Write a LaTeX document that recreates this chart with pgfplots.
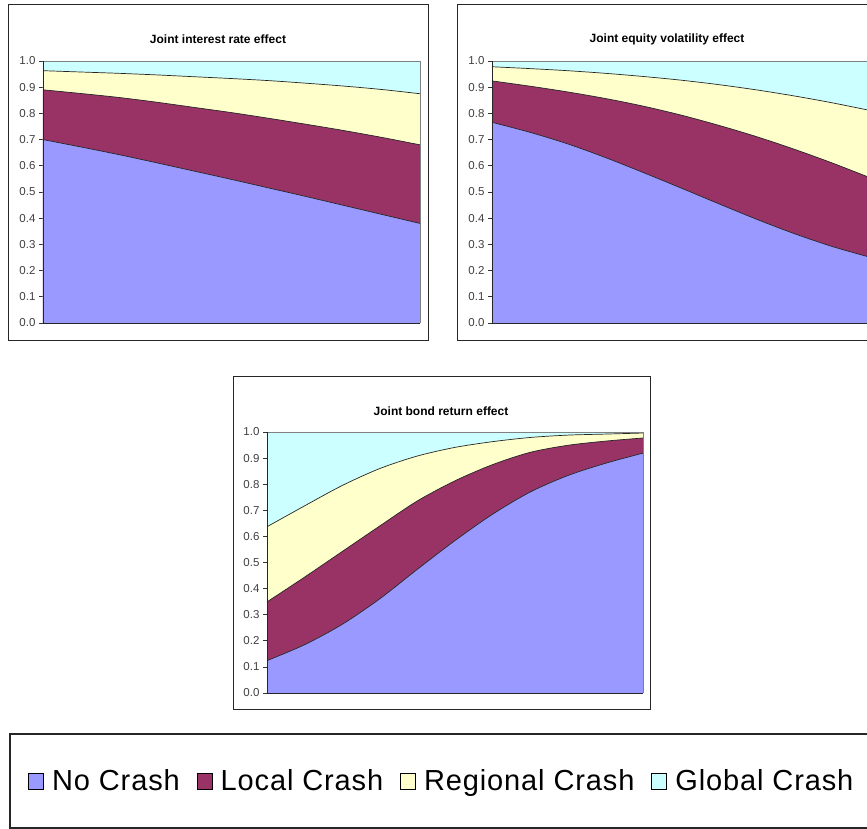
\documentclass[border=0pt]{standalone}
\usepackage{pgfplots}
\usepackage{pgfplotstable}
\pgfplotsset{compat=1.18}
\usepackage{fontspec}
\setmainfont{Liberation Sans}

\definecolor{nocrash}{HTML}{9999FF}
\definecolor{localc}{HTML}{993366}
\definecolor{regional}{HTML}{FFFFCC}
\definecolor{global}{HTML}{CCFFFF}

% cumulative shares (no crash, + local, + regional); global fills up to 1
\pgfplotstableread{
x    nocrash local regional
0.0  0.700   0.890 0.963
0.1  0.672   0.876 0.958
0.2  0.643   0.861 0.953
0.3  0.612   0.843 0.947
0.4  0.580   0.823 0.940
0.5  0.548   0.803 0.933
0.6  0.515   0.781 0.925
0.7  0.482   0.758 0.915
0.8  0.448   0.734 0.904
0.9  0.414   0.708 0.891
1.0  0.380   0.680 0.875
}\interest

\pgfplotstableread{
x    nocrash local regional
0.0  0.766   0.924 0.978
0.1  0.728   0.904 0.971
0.2  0.684   0.882 0.963
0.3  0.632   0.857 0.953
0.4  0.575   0.828 0.941
0.5  0.516   0.794 0.927
0.6  0.456   0.755 0.910
0.7  0.397   0.712 0.890
0.8  0.342   0.664 0.867
0.9  0.293   0.612 0.841
1.0  0.252   0.556 0.812
}\equity

\pgfplotstableread{
x    nocrash local regional
0.0  0.124   0.349 0.637
0.1  0.185   0.444 0.717
0.2  0.263   0.542 0.795
0.3  0.361   0.640 0.860
0.4  0.474   0.736 0.908
0.5  0.584   0.813 0.941
0.6  0.685   0.875 0.963
0.7  0.770   0.922 0.979
0.8  0.833   0.949 0.988
0.9  0.880   0.965 0.992
1.0  0.919   0.977 0.996
}\bond

\pgfplotsset{
  crash/.style={
    scale only axis, width=377pt, height=262pt,
    xmin=0, xmax=1, ymin=0, ymax=1, clip=false,
    xtick=\empty, ytick={0,0.1,0.2,0.3,0.4,0.5,0.6,0.7,0.8,0.9,1.0},
    ytick pos=left, tick align=outside, major tick length=4pt,
    axis line style={draw=none},
    tick style={black!80, line width=0.7pt},
    yticklabel style={font=\fontsize{11.5}{13}\selectfont, text=black!75,
      /pgf/number format/.cd, fixed, fixed zerofill, precision=1, assume math mode=true},
  },
  band/.style={draw=none, fill=#1, forget plot, smooth},
  edge/.style={black!85, line width=0.7pt, forget plot, smooth},
  legend image code/.code={\draw[#1, draw=black, line width=0.9pt] (0pt,-8pt) rectangle (15pt,8pt);},
}

\newcommand{\stackedareas}[1]{%
  \addplot[band=global] coordinates {(0,1) (1,1)} \closedcycle;
  \addplot[band=regional] table[x=x, y=regional] {#1} \closedcycle;
  \addplot[band=localc] table[x=x, y=local] {#1} \closedcycle;
  \addplot[band=nocrash] table[x=x, y=nocrash] {#1} \closedcycle;
  \addplot[edge] table[x=x, y=regional] {#1};
  \addplot[edge] table[x=x, y=local] {#1};
  \addplot[edge] table[x=x, y=nocrash] {#1};
  \draw[gray, line width=0.8pt] (rel axis cs:0,1) -- (rel axis cs:1,1) -- (rel axis cs:1,0);
  \draw[black!85, line width=0.8pt] (rel axis cs:1,0) -- (rel axis cs:0,0) -- (rel axis cs:0,1);
}

\begin{document}
\begin{tikzpicture}
  % frames round the three charts and the legend
  \draw[black!85, line width=1pt] (8pt,488pt) rectangle (428pt,824pt);
  \draw[black!85, line width=1pt] (457pt,488pt) rectangle (877pt,824pt);
  \draw[black!85, line width=1pt] (233pt,119pt) rectangle (650pt,452pt);
  \draw[black!85, line width=1.2pt] (10pt,1pt) rectangle (880pt,95pt);

  \node[font=\bfseries\fontsize{12}{14}\selectfont] at (218pt,790pt) {Joint interest rate effect};
  \node[font=\bfseries\fontsize{12}{14}\selectfont] at (667pt,790pt) {Joint equity volatility effect};
  \node[font=\bfseries\fontsize{12}{14}\selectfont] at (441pt,418pt) {Joint bond return effect};

  \begin{axis}[crash, at={(43pt,506pt)}, anchor=south west,
      legend columns=4,
      legend style={at={(axis description cs:-0.0398,-1.748)}, anchor=west,
        draw=none, fill=none, inner sep=0pt,
        font=\fontsize{29}{34}\selectfont\addfontfeatures{LetterSpace=3},
        nodes={inner sep=0pt},
        /tikz/every odd column/.append style={column sep=8pt},
        /tikz/every even column/.append style={column sep=17pt}}]
    \stackedareas{\interest}
    \addlegendimage{fill=nocrash}\addlegendentry{No Crash}
    \addlegendimage{fill=localc}\addlegendentry{Local Crash}
    \addlegendimage{fill=regional}\addlegendentry{Regional Crash}
    \addlegendimage{fill=global}\addlegendentry{Global Crash}
  \end{axis}

  \begin{axis}[crash, at={(492pt,506pt)}, anchor=south west]
    \stackedareas{\equity}
  \end{axis}

  \begin{axis}[crash, width=376pt, height=261pt, at={(267pt,136pt)}, anchor=south west]
    \stackedareas{\bond}
  \end{axis}

  \pgfresetboundingbox
  \useasboundingbox (0pt,0pt) rectangle (867pt,829pt);
\end{tikzpicture}
\end{document}
